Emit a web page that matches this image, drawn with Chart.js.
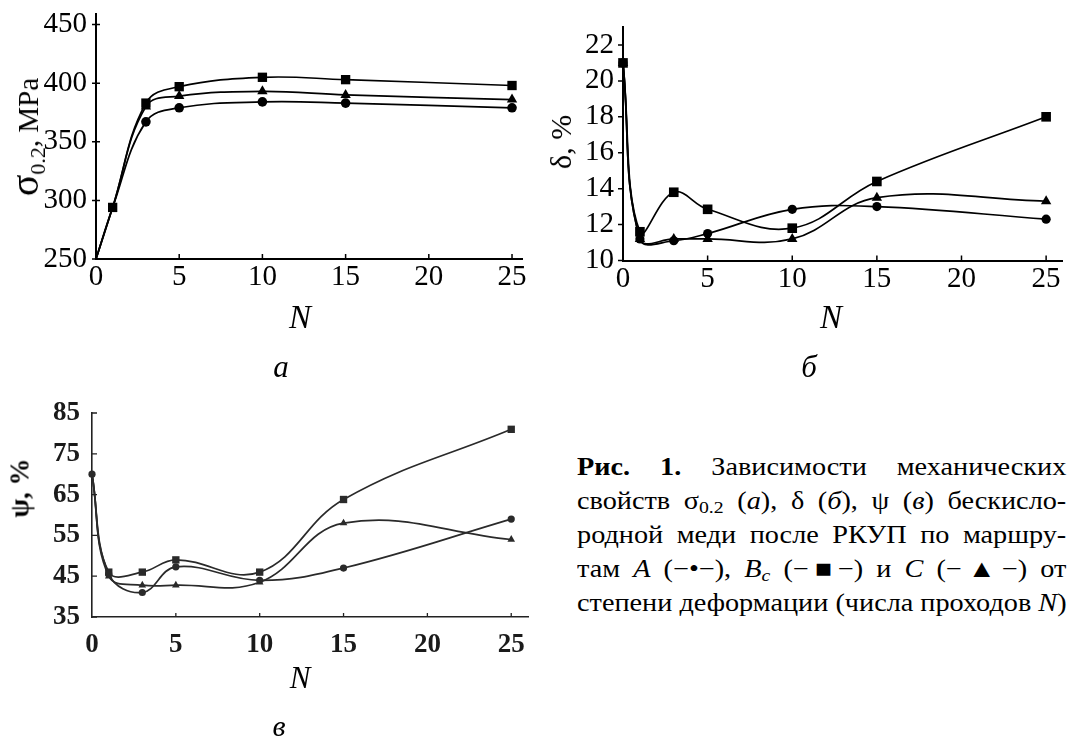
<!DOCTYPE html>
<html>
<head>
<meta charset="utf-8">
<script src="https://cdn.jsdelivr.net/npm/chart.js@4.4.0/dist/chart.umd.min.js"></script>
<style>
  body { margin: 0; background: #fff; width: 1069px; height: 740px; position: relative; overflow: hidden;
         font-family: "Liberation Serif", "Times New Roman", serif; color: #000; }
  canvas { position: absolute; }
  .t { position: absolute; white-space: nowrap; line-height: 1; transform: translate(-50%, -50%); }
  .rot { transform: translate(-50%, -50%) rotate(-90deg); }
  sub { font-size: 0.7em; vertical-align: -0.25em; line-height: 0; }
  .cl { position: absolute; left: 577px; width: 433px; font-size: 25px; line-height: 34px; height: 34px;
        text-align: justify; text-align-last: justify; white-space: nowrap;
        transform: scaleX(1.13); transform-origin: 0 0; }
</style>
</head>
<body>
<canvas id="chA" width="545" height="300" style="left:0;top:0"></canvas>
<canvas id="chB" width="539" height="300" style="left:530px;top:0"></canvas>
<canvas id="chC" width="545" height="270" style="left:0;top:400px"></canvas>

<!-- подписи осей -->
<div class="t rot" style="left:25px;top:137px;font-size:29px"><span style="font-size:40px">σ</span><sub style="font-size:22px;vertical-align:-0.3em">0.2</sub>,&nbsp;MPa</div>
<div class="t" style="left:300px;top:317px;font-size:33px;font-style:italic">N</div>
<div class="t" style="left:281px;top:366px;font-size:31px;font-style:italic">а</div>

<div class="t rot" style="left:561px;top:142px;font-size:30px">δ, %</div>
<div class="t" style="left:831px;top:317px;font-size:33px;font-style:italic">N</div>
<div class="t" style="left:809px;top:366px;font-size:31px;font-style:italic">б</div>

<div class="t rot" style="left:20px;top:488px;font-size:27px;font-weight:bold">ψ, %</div>
<div class="t" style="left:300px;top:677px;font-size:31px;font-style:italic">N</div>
<div class="t" style="left:279px;top:726px;font-size:30px;font-style:italic">в</div>

<!-- подпись к рисунку -->
<div class="cl" style="top:450px"><b>Рис. 1.</b> Зависимости механических</div>
<div class="cl" style="top:484px">свойств σ<sub>0.2</sub> (<i>а</i>), δ (<i>б</i>), ψ (<i>в</i>) бескисло-</div>
<div class="cl" style="top:518px">родной меди после РКУП по маршру-</div>
<div class="cl" style="top:552px">там <i>A</i> (−•−), <i>B<sub>c</sub></i> (−■−) и <i>C</i> (−▲−) от</div>
<div class="cl" style="top:586px">степени деформации (числа проходов <i>N</i>)</div>

<script>
// число проходов N
const passes = [0, 1, 3, 5, 10, 15, 25];

// σ0.2, MPa
const sigmaA  = [250, 294, 367, 379, 384, 383, 379];
const sigmaBc = [250, 294, 383, 397, 405, 403, 398];
const sigmaC  = [250, 294, 380, 389, 393, 390, 386];

// δ, %
const deltaA  = [21, 11.2, 11.1, 11.5, 12.85, 13.0, 12.3];
const deltaBc = [21, 11.6, 13.8, 12.85, 11.8, 14.4, 18.0];
const deltaC  = [21, 11.2, 11.2, 11.2, 11.2, 13.5, 13.3];

// ψ, %
const psiA  = [70, 45.5, 41, 47.3, 44, 47, 59];
const psiBc = [70, 46, 46, 49, 46, 63.8, 81];
const psiC  = [70, 45, 42.8, 42.8, 43.5, 58, 54];

// деления осей
const xTicks = [0, 5, 10, 15, 20, 25];
const sigmaTicks = [250, 300, 350, 400, 450];
const deltaTicks = [10, 12, 14, 16, 18, 20, 22];
const psiTicks = [35, 45, 55, 65, 75, 85];

const serif = '"Liberation Serif", "Times New Roman", serif';
Chart.defaults.font.family = serif;

// короткие штрихи делений (yIn/yOut — внутрь и наружу от оси)
const innerTicks = {
  id: 'innerTicks',
  afterDraw(chart, args, opts) {
    const { ctx, chartArea: a, scales: { x, y } } = chart;
    ctx.save();
    ctx.strokeStyle = opts.color;
    ctx.lineWidth = opts.width;
    ctx.beginPath();
    x.ticks.forEach(t => {
      if (t.value === 0) return;
      const px = x.getPixelForValue(t.value);
      ctx.moveTo(px, a.bottom);
      ctx.lineTo(px, a.bottom - opts.xLen);
    });
    y.ticks.forEach(t => {
      const py = y.getPixelForValue(t.value);
      ctx.moveTo(a.left - opts.yOut, py);
      ctx.lineTo(a.left + opts.yIn, py);
    });
    ctx.stroke();
    ctx.restore();
  }
};

function pts(data) {
  return data.map((v, i) => ({ x: passes[i], y: v }));
}

function series(data, style, radius, color, width) {
  return {
    data: pts(data),
    pointStyle: style,
    pointRadius: radius,
    pointBackgroundColor: color,
    pointBorderColor: color,
    pointBorderWidth: 0,
    borderColor: color,
    borderWidth: width,
    tension: 0.4,
    fill: false,
    clip: false
  };
}

function makeChart(id, p) {
  new Chart(document.getElementById(id), {
    type: 'line',
    data: { datasets: p.datasets },
    options: {
      responsive: false,
      animation: false,
      layout: { padding: { left: 0, top: p.top, right: p.right, bottom: 0 } },
      plugins: { legend: { display: false }, tooltip: { enabled: false }, innerTicks: p.marks },
      scales: {
        x: {
          type: 'linear', min: 0, max: p.xMax,
          afterBuildTicks: s => { s.ticks = xTicks.map(v => ({ value: v })); },
          afterFit: s => { s.height = p.xH; s.paddingLeft = 0; s.paddingRight = 0; },
          grid: { display: false, drawTicks: false },
          border: { display: true, color: p.axis, width: p.axisW },
          ticks: { padding: p.xPad, color: p.text, maxRotation: 0, autoSkip: false,
                   font: { family: serif, size: p.fs, weight: p.fw } }
        },
        y: {
          type: 'linear', min: p.yMin, max: p.yMax,
          afterBuildTicks: s => { s.ticks = p.yTicks.map(v => ({ value: v })); },
          afterFit: s => { s.width = p.yW; s.paddingTop = 0; s.paddingBottom = 0; },
          grid: { display: false, drawTicks: false },
          border: { display: true, color: p.axis, width: p.axisW },
          ticks: { padding: p.yPad, color: p.text, autoSkip: false,
                   font: { family: serif, size: p.fs, weight: p.fw } }
        }
      }
    },
    plugins: [innerTicks]
  });
}

// а — σ0.2
makeChart('chA', {
  datasets: [
    series(sigmaBc, 'rect', [0, 6.6, 6.6, 6.6, 6.6, 6.6, 6.6], '#000', 1.7),
    series(sigmaC, 'triangle', [0, 0, 6, 6, 6, 6, 6], '#000', 1.7),
    series(sigmaA, 'circle', [0, 0, 4.8, 4.8, 4.8, 4.8, 4.8], '#000', 1.7)
  ],
  top: 14, right: 23, xH: 41, yW: 96,
  xMax: 25.6, yMin: 250, yMax: 459, yTicks: sigmaTicks,
  axis: '#000', axisW: 2, text: '#000', fs: 29, fw: 'normal', xPad: 1, yPad: 9,
  marks: { color: '#000', width: 1.5, xLen: 5, yIn: 4, yOut: 4 }
});

// б — δ
makeChart('chB', {
  datasets: [
    series(deltaBc, 'rect', 6.8, '#000', 1.7),
    series(deltaC, 'triangle', 6, '#000', 1.7),
    series(deltaA, 'circle', 4.6, '#000', 1.7)
  ],
  top: 27, right: 6, xH: 39.5, yW: 93,
  xMax: 25.95, yMin: 10, yMax: 23, yTicks: deltaTicks,
  axis: '#000', axisW: 2, text: '#000', fs: 29, fw: 'normal', xPad: 1, yPad: 9,
  marks: { color: '#000', width: 1.5, xLen: 5, yIn: 0, yOut: 5 }
});

// в — ψ
makeChart('chC', {
  datasets: [
    series(psiA, 'circle', 3.6, '#2a2a2a', 1.7),
    series(psiBc, 'rect', [0, 5.2, 5.2, 5.2, 5.2, 5.2, 5.2], '#2a2a2a', 1.7),
    series(psiC, 'triangle', [0, 4.4, 4.4, 4.4, 4.4, 4.4, 4.4], '#2a2a2a', 1.7)
  ],
  top: 13, right: 17, xH: 53, yW: 92,
  xMax: 26, yMin: 35, yMax: 85, yTicks: psiTicks,
  axis: '#222', axisW: 1.6, text: '#1a1a1a', fs: 27, fw: 'bold', xPad: 12, yPad: 12,
  marks: { color: '#222', width: 1.3, xLen: 4, yIn: 5, yOut: 0 }
});
</script>
</body>
</html>
